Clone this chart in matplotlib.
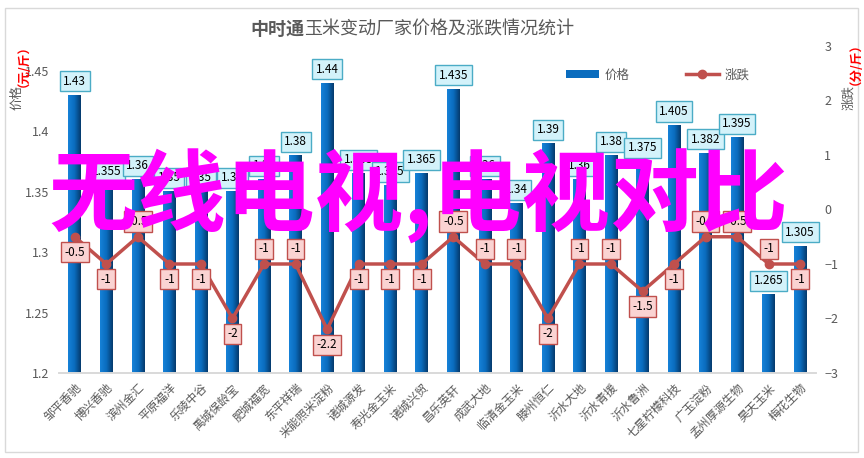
import numpy as np
import matplotlib
matplotlib.use("Agg")
import matplotlib.pyplot as plt
from matplotlib.colors import LinearSegmentedColormap
from matplotlib.lines import Line2D
from matplotlib.patches import Patch, Rectangle

plt.rcParams['font.family'] = ['Noto Sans CJK SC', 'DejaVu Sans']

factories = ["邹平香驰", "博兴香驰", "滨州金汇", "平原福洋", "乐陵中谷", "禹城保龄宝",
             "肥城福宽", "东平祥瑞", "米能照米淀粉", "诸城源发", "寿光金玉米", "诸城兴贸",
             "昌乐英轩", "成武大地", "临清金玉米", "滕州恒仁", "沂水大地", "沂水青援",
             "沂水鲁洲", "七星柠檬科技", "广玉淀粉", "孟州厚源生物", "昊天玉米", "梅花生物"]
price = [1.43, 1.355, 1.36, 1.35, 1.35, 1.35, 1.36, 1.38, 1.44, 1.365, 1.355, 1.365,
         1.435, 1.36, 1.34, 1.39, 1.36, 1.38, 1.375, 1.405, 1.382, 1.395, 1.265, 1.305]
change = [-0.5, -1, -0.5, -1, -1, -2, -1, -1, -2.2, -1, -1, -1,
          -0.5, -1, -1, -2, -1, -1, -1.5, -1, -0.5, -0.5, -1, -1]
# label side for the change values: 1 above, -1 below
label_side = [-1, -1, 1, -1, -1, -1, 1, 1, -1, -1, -1, -1,
              1, 1, 1, -1, 1, 1, -1, -1, 1, 1, 1, -1]

GRAY = '#595959'
LINE_RED = '#C0504D'
YMIN, YMAX = 1.2, 1.4707

fig = plt.figure(figsize=(8.64, 4.58), dpi=100)
ax = fig.add_axes([59 / 864, 1 - 373 / 458, 757 / 864, 327 / 458])
ax2 = ax.twinx()

x = np.arange(len(factories))
bars = ax.bar(x, price, width=0.4, color='#0A6CBE', zorder=2)

# horizontal gradient on each bar, kept inside the axes
cmap = LinearSegmentedColormap.from_list('barblue', ['#1682D8', '#0A6CBE', '#053A6C'])
grad = np.linspace(0, 1, 64).reshape(1, -1)
for b in bars:
    x0 = b.get_x()
    top = b.get_y() + b.get_height()
    ax.imshow(grad, cmap=cmap, aspect='auto', zorder=2, interpolation='bilinear',
              extent=[x0, x0 + b.get_width(), YMIN, top])

ax.set_xlim(-0.5, len(factories) - 0.5)
ax.set_ylim(YMIN, YMAX)
ax.set_yticks([1.2, 1.25, 1.3, 1.35, 1.4, 1.45])
ax.set_yticklabels(['1.2', '1.25', '1.3', '1.35', '1.4', '1.45'])

for xi, p in zip(x, price):
    ax.annotate(f"{p:g}", (xi, p), xytext=(0, 10), textcoords='offset points',
                ha='center', va='center', fontsize=8.5, color='black', zorder=5,
                bbox=dict(boxstyle='square,pad=0.3', fc='#D3F2FA', ec='#4BACC6', lw=1))

ax2.plot(x, change, color=LINE_RED, lw=2.5, marker='o', ms=6, zorder=4)
ax2.set_ylim(-3, 3)
ax2.set_yticks(range(-3, 4))

for xi, c, s in zip(x, change, label_side):
    ax2.annotate(f"{c:g}", (xi, c), xytext=(0, 11 * s), textcoords='offset points',
                 ha='center', va='center', fontsize=8.5, color='black', zorder=6,
                 bbox=dict(boxstyle='square,pad=0.3', fc='#FAD3D2', ec=LINE_RED, lw=1))

ax.set_zorder(1)
ax2.set_zorder(2)
ax.patch.set_visible(False)

ax.set_xticks(x)
ax.set_xticklabels(factories, rotation=45, ha='right', va='top', rotation_mode='anchor',
                   fontsize=8.5, color=GRAY)
ax.tick_params(axis='x', length=0, pad=6)
ax.tick_params(axis='y', length=0, pad=7, labelsize=9, labelcolor=GRAY)
ax2.tick_params(axis='y', length=0, pad=6, labelsize=9, labelcolor=GRAY)

for a in (ax, ax2):
    for side in ('top', 'left', 'right'):
        a.spines[side].set_visible(False)
    a.spines['bottom'].set_color('#D9D9D9')
    a.spines['bottom'].set_linewidth(1.2)

# axis titles
fig.text(17 / 864, 1 - 98 / 458, "价格", rotation=90, ha='center', va='center',
         fontsize=9, color=GRAY)
fig.text(17 / 864, 1 - 60 / 458, "（元/斤）", rotation=90, ha='center', va='center',
         fontsize=9, color='red', fontweight='bold')
fig.text(849 / 864, 1 - 97 / 458, "涨跌", rotation=90, ha='center', va='center',
         fontsize=9, color=GRAY)
fig.text(849 / 864, 1 - 58 / 458, "（分/斤）", rotation=90, ha='center', va='center',
         fontsize=9, color='red', fontweight='bold')

# title
fig.text(250 / 864, 1 - 29 / 458, "中时通", ha='left', va='center', fontsize=13,
         color=GRAY, fontweight='bold')
fig.text(304 / 864, 1 - 29 / 458, "玉米变动厂家价格及涨跌情况统计", ha='left', va='center',
         fontsize=13, color=GRAY)

handles = [Patch(facecolor='#0A6CBE', edgecolor='none'),
           Line2D([], [], color=LINE_RED, lw=2.5, marker='o', ms=6)]
fig.legend(handles, ["价格", "涨跌"], loc='center', bbox_to_anchor=(658 / 864, 1 - 75 / 458),
           ncol=2, frameon=False, fontsize=9, labelcolor=GRAY, handlelength=2.6,
           handleheight=0.6, columnspacing=4.5, handletextpad=0.5)

# overlay caption
fig.text(418 / 864, 1 - 196 / 458, "无线电视,电视对比", ha='center', va='center',
         fontsize=64, color='#FF00FF', fontweight='bold', zorder=20)

fig.patches.append(Rectangle((5 / 864, 6 / 458), 853 / 864, 444 / 458, transform=fig.transFigure,
                             fill=False, ec='#D9D9D9', lw=1))

fig.savefig('out.png', dpi=100)
